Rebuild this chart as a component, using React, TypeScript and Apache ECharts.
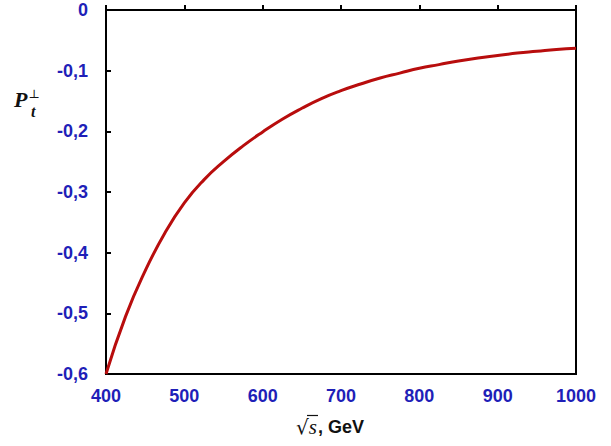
import React, { useEffect, useRef } from "react";
import * as echarts from "echarts";

const sqrtS = [400, 425, 450, 475, 500, 525, 550, 575, 600, 625, 650, 675, 700, 725, 750, 775, 800, 825, 850, 875, 900, 925, 950, 975, 1000];
const pT = [-0.6, -0.505, -0.43, -0.368, -0.318, -0.28, -0.25, -0.224, -0.201, -0.18, -0.162, -0.146, -0.133, -0.122, -0.112, -0.104, -0.096, -0.09, -0.084, -0.079, -0.075, -0.071, -0.068, -0.065, -0.063];
const xTicks = { min: 400, max: 1000, step: 100 };
const yTicks = { min: -0.6, max: 0, step: 0.1 };

const BLUE = "#1f1fb8";

export default function App() {
  const ref = useRef<HTMLDivElement>(null);
  useEffect(() => {
    if (!ref.current) return;
    const chart = echarts.init(ref.current, null, { renderer: "svg" });
    chart.setOption({
      animation: false,
      backgroundColor: "#ffffff",
      grid: { left: 106, right: 35, top: 10, bottom: 72, show: true, borderColor: "#000", borderWidth: 2, backgroundColor: "transparent" },
      xAxis: {
        type: "value",
        min: xTicks.min,
        max: xTicks.max,
        interval: xTicks.step,
        axisLine: { show: true, lineStyle: { color: "#000", width: 2 } },
        axisTick: { show: true, inside: true, length: 5, lineStyle: { color: "#000", width: 2 } },
        splitLine: { show: false },
        axisLabel: { color: BLUE, fontFamily: "Liberation Sans, Arial", fontWeight: "bold", fontSize: 18, margin: 13, formatter: (v: number) => String(v) },
      },
      yAxis: {
        type: "value",
        min: yTicks.min,
        max: yTicks.max,
        interval: yTicks.step,
        axisLine: { show: true, onZero: false, lineStyle: { color: "#000", width: 2 } },
        axisTick: { show: true, inside: true, length: 5, lineStyle: { color: "#000", width: 2 } },
        splitLine: { show: false },
        axisLabel: {
          color: BLUE,
          fontFamily: "Liberation Sans, Arial",
          fontWeight: "bold",
          fontSize: 18,
          margin: 18,
          formatter: (v: number) => (Math.abs(v) < 1e-9 ? "0" : v.toFixed(1).replace(".", ",")),
        },
      },
      series: [
        {
          type: "line",
          data: sqrtS.map((x, i) => [x, pT[i]]),
          smooth: true,
          showSymbol: false,
          lineStyle: { color: "#b80d0d", width: 3 },
        },
      ],
      graphic: [
        {
          type: "text",
          x: 14,
          y: 88,
          style: {
            text: "{p|P}{s|⊥}",
            rich: {
              p: { fontFamily: "Liberation Serif, Times New Roman", fontStyle: "italic", fontWeight: "bold", fontSize: 22, fill: "#111" },
              s: { fontFamily: "DejaVu Serif", fontSize: 12, fill: "#111", verticalAlign: "top", padding: [0, 0, 8, 1] },
            },
          },
        },
        {
          type: "text",
          x: 31,
          y: 103,
          style: { text: "t", fontFamily: "Liberation Serif, Times New Roman", fontStyle: "italic", fontWeight: "bold", fontSize: 16, fill: "#111" },
        },
        {
          type: "text",
          x: 296,
          y: 427,
          style: {
            text: "{r|√}{s|s}{g|, GeV}",
            align: "left",
            verticalAlign: "middle",
            rich: {
              r: { fontFamily: "DejaVu Sans", fontSize: 20, fill: "#111" },
              s: { fontFamily: "Liberation Serif", fontStyle: "italic", fontSize: 21, fill: "#111", padding: [0, 1, 0, 0] },
              g: { fontFamily: "Liberation Sans, Arial", fontWeight: "bold", fontSize: 18, fill: "#111" },
            },
          },
        },
        {
          type: "line",
          shape: { x1: 307, y1: 415.5, x2: 318, y2: 415.5 },
          style: { stroke: "#111", lineWidth: 1.2 },
        },
      ],
    });
    return () => chart.dispose();
  }, []);
  return <div ref={ref} style={{ width: 611, height: 446, position: "absolute", left: 0, top: 0 }} />;
}
